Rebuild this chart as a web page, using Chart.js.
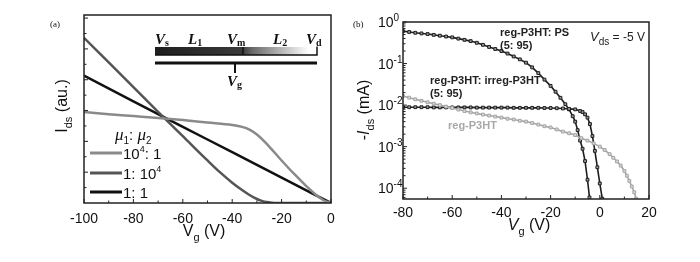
<!DOCTYPE html>
<html>
<head>
<meta charset="utf-8">
<script src="https://cdn.jsdelivr.net/npm/chart.js@4.4.1/dist/chart.umd.min.js"></script>
<style>
html, body { margin: 0; padding: 0; background: #fff; }
#wrap { position: relative; width: 700px; height: 262px; }
canvas { position: absolute; top: 0; }
#chartA { left: 0; }
#chartB { left: 350px; }
</style>
</head>
<body>
<div id="wrap">
  <canvas id="chartA" width="350" height="262"></canvas>
  <canvas id="chartB" width="350" height="262"></canvas>
</div>
<script>
// ---- panel (a): simulated Ids vs Vg for three mobility ratios ----
const vgHighMu1 = [-100, -90, -80, -70, -60, -50, -40, -36, -33, -30, -27, -24, -20, -15, -10, -6, -3, 0];
const idsHighMu1 = [2.95, 2.88, 2.82, 2.76, 2.69, 2.61, 2.53, 2.47, 2.38, 2.22, 2.0, 1.74, 1.38, 0.95, 0.55, 0.26, 0.09, 0];
const vgHighMu2 = [-100, -90, -80, -70, -60, -50, -45, -40, -36, -33, -30, -28, -26, -24, -22, -10, 0];
const idsHighMu2 = [5.36, 4.56, 3.76, 2.96, 2.17, 1.38, 1.0, 0.66, 0.42, 0.26, 0.13, 0.07, 0.03, 0.01, 0, 0, 0];
const vgEqualMu = [-100, -80, -60, -40, -20, 0];
const idsEqualMu = [4.13, 3.3, 2.47, 1.65, 0.82, 0];

// ---- panel (b): measured -Ids (mA) vs Vg at Vds = -5 V ----
const vgPS = [-80, -77.5, -75, -72.5, -70, -67.5, -65, -62.5, -60, -57.5, -55, -52.5, -50, -47.5, -45, -42.5, -40, -37.5, -35, -32.5, -30, -27.5, -25, -22.5, -20, -18, -16, -14, -12.5, -11, -10, -9, -8, -7, -6, -5, -4.2];
const idsPS = [0.603, 0.575, 0.55, 0.531, 0.513, 0.49, 0.468, 0.447, 0.427, 0.398, 0.372, 0.347, 0.316, 0.282, 0.251, 0.224, 0.2, 0.174, 0.148, 0.126, 0.105, 0.081, 0.059, 0.041, 0.029, 0.021, 0.015, 0.0105, 0.0079, 0.0054, 0.004, 0.0025, 0.0014, 0.00089, 0.00045, 0.00016, 0.00006];
const vgIrreg = [-80, -77.5, -75, -72.5, -70, -67.5, -65, -62.5, -60, -57.5, -55, -52.5, -50, -47.5, -45, -42.5, -40, -37.5, -35, -32.5, -30, -27.5, -25, -22.5, -20, -17.5, -15, -12.5, -10, -8, -7, -6, -5, -4, -3, -2, -1, 0, 1];
const idsIrreg = [0.0089, 0.0089, 0.0089, 0.0089, 0.0089, 0.0088, 0.0088, 0.0088, 0.0088, 0.0088, 0.0088, 0.0088, 0.0087, 0.0087, 0.0087, 0.0087, 0.0087, 0.0087, 0.0086, 0.0086, 0.0086, 0.0086, 0.0086, 0.0085, 0.0085, 0.0084, 0.0083, 0.0081, 0.0079, 0.0072, 0.0068, 0.006, 0.005, 0.0035, 0.0018, 0.00079, 0.00032, 0.00013, 0.000056];
const vgReg = [-80, -77.5, -75, -72.5, -70, -67.5, -65, -62.5, -60, -57.5, -55, -52.5, -50, -47.5, -45, -42.5, -40, -37.5, -35, -32.5, -30, -27.5, -25, -22.5, -20, -17.5, -15, -12.5, -10, -7.5, -5, -2.5, 0, 2, 4, 5.5, 7, 8.5, 10, 11, 12, 13, 14, 14.8];
const idsReg = [0.0166, 0.0151, 0.0138, 0.0127, 0.0117, 0.0108, 0.01, 0.0092, 0.0085, 0.0078, 0.0072, 0.0067, 0.0063, 0.0059, 0.0056, 0.0053, 0.005, 0.0047, 0.0045, 0.0042, 0.004, 0.0037, 0.0034, 0.0031, 0.0029, 0.0026, 0.0023, 0.0021, 0.0019, 0.0016, 0.0014, 0.0012, 0.001, 0.00083, 0.00066, 0.00054, 0.00044, 0.00035, 0.00026, 0.0002, 0.00015, 0.00011, 0.00008, 0.000056];

// tick positions
const xMajorA = [-100, -80, -60, -40, -20, 0];
const xMinorA = [-90, -70, -50, -30, -10];
const yMajorA = [1, 2, 3, 4, 5, 6];
const yMinorA = [0.5, 1.5, 2.5, 3.5, 4.5, 5.5];
const xMajorB = [-80, -60, -40, -20, 0, 20];
const xMinorB = [-70, -50, -30, -10, 10];
const decadesB = [-4, -3, -2, -1, 0];

const SANS = '"Liberation Sans", Arial, sans-serif';
const SERIF = '"Liberation Serif", "Times New Roman", serif';
Chart.defaults.font.family = SANS;
Chart.defaults.color = '#111';

const toXY = (xs, ys) => xs.map((x, i) => ({ x: x, y: ys[i] }));

// text with sub/superscript pieces
function richText(ctx, parts, x, y, align) {
  let w = 0;
  parts.forEach(p => { ctx.font = p.font; w += ctx.measureText(p.t).width; });
  let cx = align === 'center' ? x - w / 2 : align === 'right' ? x - w : x;
  ctx.textAlign = 'left';
  ctx.textBaseline = 'alphabetic';
  parts.forEach(p => {
    ctx.font = p.font;
    ctx.fillText(p.t, cx, y + (p.dy || 0));
    cx += ctx.measureText(p.t).width;
  });
}

// box around plot area + inward tick marks
const frame = {
  id: 'frame',
  afterDraw(chart, args, opts) {
    const { ctx, chartArea: a, scales: { x, y } } = chart;
    ctx.save();
    ctx.strokeStyle = '#222';
    ctx.lineWidth = 1.5;
    ctx.strokeRect(a.left, a.top, a.right - a.left, a.bottom - a.top);
    ctx.lineWidth = 1;
    ctx.beginPath();
    opts.xMajor.forEach(v => { const p = x.getPixelForValue(v); ctx.moveTo(p, a.bottom); ctx.lineTo(p, a.bottom - 4); });
    opts.xMinor.forEach(v => { const p = x.getPixelForValue(v); ctx.moveTo(p, a.bottom); ctx.lineTo(p, a.bottom - 2.5); });
    opts.yMajor.forEach(v => { const p = y.getPixelForValue(v); ctx.moveTo(a.left, p); ctx.lineTo(a.left + 4, p); });
    opts.yMinor.forEach(v => { const p = y.getPixelForValue(v); ctx.moveTo(a.left, p); ctx.lineTo(a.left + 2.5, p); });
    ctx.stroke();
    ctx.restore();
  }
};

// ---- panel (a) decorations: titles, legend, device sketch ----
const decorA = {
  id: 'decorA',
  afterDraw(chart) {
    const ctx = chart.ctx;
    ctx.save();
    ctx.fillStyle = '#111';
    ctx.font = '9px ' + SERIF;
    ctx.fillText('(a)', 50, 27);

    // axis titles
    richText(ctx, [
      { t: 'V', font: '16px ' + SANS },
      { t: 'g', font: '11px ' + SANS, dy: 5 },
      { t: ' (V)', font: '16px ' + SANS }
    ], 204, 236, 'center');
    ctx.translate(67, 106);
    ctx.rotate(-Math.PI / 2);
    richText(ctx, [
      { t: 'I', font: '16px ' + SANS },
      { t: 'ds', font: '11px ' + SANS, dy: 5 },
      { t: ' (au.)', font: '16px ' + SANS }
    ], 0, 0, 'center');
    ctx.setTransform(1, 0, 0, 1, 0, 0);

    // legend
    richText(ctx, [
      { t: 'μ', font: 'italic 17px ' + SERIF },
      { t: '1', font: '10px ' + SANS, dy: 4 },
      { t: ': ', font: '15px ' + SANS },
      { t: 'μ', font: 'italic 17px ' + SERIF },
      { t: '2', font: '10px ' + SANS, dy: 4 }
    ], 115, 140, 'left');
    const rows = [
      { c: '#8a8a8a', y: 153, parts: [{ t: '10', font: '15px ' + SANS }, { t: '4', font: '9px ' + SANS, dy: -7 }, { t: ': 1', font: '15px ' + SANS }] },
      { c: '#555', y: 173, parts: [{ t: '1: 10', font: '15px ' + SANS }, { t: '4', font: '9px ' + SANS, dy: -7 }] },
      { c: '#111', y: 192, parts: [{ t: '1: 1', font: '15px ' + SANS }] }
    ];
    rows.forEach(r => {
      ctx.strokeStyle = r.c;
      ctx.lineWidth = 3;
      ctx.beginPath(); ctx.moveTo(90, r.y); ctx.lineTo(122, r.y); ctx.stroke();
      ctx.fillStyle = '#111';
      richText(ctx, r.parts, 123, r.y + 5.5, 'left');
    });

    // device sketch
    const g = ctx.createLinearGradient(155, 0, 317, 0);
    g.addColorStop(0, '#1e1e1e');
    g.addColorStop(0.54, '#3a3a3a');
    g.addColorStop(0.6, '#6a6a6a');
    g.addColorStop(0.95, '#ffffff');
    ctx.fillStyle = g;
    ctx.fillRect(155, 47, 162, 8);
    ctx.strokeStyle = '#111';
    ctx.lineWidth = 1.5;
    ctx.beginPath();
    ctx.moveTo(155, 55); ctx.lineTo(317, 55); ctx.lineTo(317, 46.5);
    ctx.moveTo(243, 47); ctx.lineTo(243, 55);
    ctx.stroke();
    ctx.fillStyle = '#111';
    ctx.fillRect(155, 61.5, 162, 3);
    ctx.fillRect(234, 64, 2, 9);
    const big = 'bold italic 15px ' + SERIF;
    const sub = 'bold 10px ' + SERIF;
    richText(ctx, [{ t: 'V', font: big }, { t: 's', font: sub, dy: 2 }], 155, 44, 'left');
    richText(ctx, [{ t: 'L', font: big }, { t: '1', font: sub, dy: 2 }], 188, 44, 'left');
    richText(ctx, [{ t: 'V', font: big }, { t: 'm', font: sub, dy: 2 }], 227, 44, 'left');
    richText(ctx, [{ t: 'L', font: big }, { t: '2', font: sub, dy: 2 }], 273, 44, 'left');
    richText(ctx, [{ t: 'V', font: big }, { t: 'd', font: sub, dy: 2 }], 306, 44, 'left');
    richText(ctx, [{ t: 'V', font: big }, { t: 'g', font: sub, dy: 2 }], 227, 86, 'left');
    ctx.restore();
  }
};

// ---- panel (b) decorations: log tick labels, titles, annotations ----
const decorB = {
  id: 'decorB',
  afterDraw(chart) {
    const { ctx, scales: { y } } = chart;
    ctx.save();
    ctx.fillStyle = '#111';
    ctx.font = '9px ' + SERIF;
    ctx.fillText('(b)', 3, 27);

    decadesB.forEach(e => {
      const p = y.getPixelForValue(Math.pow(10, e));
      richText(ctx, [
        { t: '10', font: '14px ' + SANS },
        { t: e === 0 ? '0' : '-' + (-e), font: '10px ' + SANS, dy: -6 }
      ], 28, p + 5, 'left');
    });

    richText(ctx, [
      { t: 'V', font: 'italic 16px ' + SANS },
      { t: 'g', font: '11px ' + SANS, dy: 5 },
      { t: ' (V)', font: '16px ' + SANS }
    ], 179, 230, 'center');
    ctx.translate(19, 110);
    ctx.rotate(-Math.PI / 2);
    richText(ctx, [
      { t: '-', font: '16px ' + SANS },
      { t: 'I', font: 'italic 16px ' + SANS },
      { t: 'ds', font: '11px ' + SANS, dy: 5 },
      { t: ' (mA)', font: '16px ' + SANS }
    ], 0, 0, 'center');
    ctx.setTransform(1, 0, 0, 1, 0, 0);

    const bold = 'bold 11px ' + SANS;
    ctx.fillStyle = '#222';
    richText(ctx, [{ t: 'reg-P3HT: PS', font: bold }], 150, 36, 'left');
    richText(ctx, [{ t: '(5: 95)', font: bold }], 150, 49, 'left');
    richText(ctx, [{ t: 'reg-P3HT: irreg-P3HT', font: bold }], 80, 84, 'left');
    richText(ctx, [{ t: '(5: 95)', font: bold }], 80, 97, 'left');
    ctx.fillStyle = '#a8a8a8';
    richText(ctx, [{ t: 'reg-P3HT', font: bold }], 98, 129, 'left');
    ctx.fillStyle = '#222';
    richText(ctx, [
      { t: 'V', font: 'italic 13px ' + SANS },
      { t: 'ds', font: '10px ' + SANS, dy: 4 },
      { t: ' = -5 V', font: '12px ' + SANS }
    ], 240, 41, 'left');
    ctx.restore();
  }
};

const lineA = (data, color) => ({
  data: data, borderColor: color, borderWidth: 2.5, pointRadius: 0,
  cubicInterpolationMode: 'monotone', fill: false
});

new Chart(document.getElementById('chartA'), {
  type: 'line',
  data: {
    datasets: [
      lineA(toXY(vgHighMu1, idsHighMu1), '#8a8a8a'),
      lineA(toXY(vgHighMu2, idsHighMu2), '#555'),
      lineA(toXY(vgEqualMu, idsEqualMu), '#111')
    ]
  },
  options: {
    responsive: false,
    animation: false,
    layout: { padding: { top: 15, right: 19, left: 0, bottom: 0 } },
    plugins: {
      legend: { display: false },
      tooltip: { enabled: false },
      frame: { xMajor: xMajorA, xMinor: xMinorA, yMajor: yMajorA, yMinor: yMinorA }
    },
    scales: {
      x: {
        type: 'linear', min: -100, max: 0,
        afterFit: s => { s.height = 59; },
        grid: { display: false, drawTicks: false },
        border: { display: false },
        ticks: { stepSize: 20, maxRotation: 0, padding: 8, color: '#111', font: { size: 14 } }
      },
      y: {
        type: 'linear', min: 0, max: 6.1,
        afterFit: s => { s.width = 84; },
        grid: { display: false, drawTicks: false },
        border: { display: false },
        ticks: { display: false }
      }
    }
  },
  plugins: [frame, decorA]
});

const lineB = (data, line, fillC) => ({
  data: data, borderColor: line, borderWidth: 1.6, tension: 0,
  pointStyle: 'rect', pointRadius: 2, pointBorderWidth: 1,
  pointBorderColor: line, pointBackgroundColor: fillC, fill: false
});

new Chart(document.getElementById('chartB'), {
  type: 'line',
  data: {
    datasets: [
      lineB(toXY(vgReg, idsReg), '#a5a5a5', '#d8d8d8'),
      lineB(toXY(vgIrreg, idsIrreg), '#1e1e1e', '#999'),
      lineB(toXY(vgPS, idsPS), '#1e1e1e', '#999')
    ]
  },
  options: {
    responsive: false,
    animation: false,
    layout: { padding: { top: 22, right: 51, left: 0, bottom: 0 } },
    plugins: {
      legend: { display: false },
      tooltip: { enabled: false },
      frame: {
        xMajor: xMajorB, xMinor: xMinorB,
        yMajor: decadesB.map(e => Math.pow(10, e)),
        yMinor: decadesB.flatMap(e => [2, 3, 4, 5, 6, 7, 8, 9].map(m => m * Math.pow(10, e - 1))).filter(v => v > 5.5e-5)
      }
    },
    scales: {
      x: {
        type: 'linear', min: -80, max: 20,
        afterFit: s => { s.height = 63; },
        grid: { display: false, drawTicks: false },
        border: { display: false },
        ticks: { stepSize: 20, maxRotation: 0, padding: 6, color: '#111', font: { size: 14 } }
      },
      y: {
        type: 'logarithmic', min: 5.5e-5, max: 1,
        afterFit: s => { s.width = 53; },
        grid: { display: false, drawTicks: false },
        border: { display: false },
        ticks: { display: false }
      }
    }
  },
  plugins: [frame, decorB]
});
</script>
</body>
</html>
